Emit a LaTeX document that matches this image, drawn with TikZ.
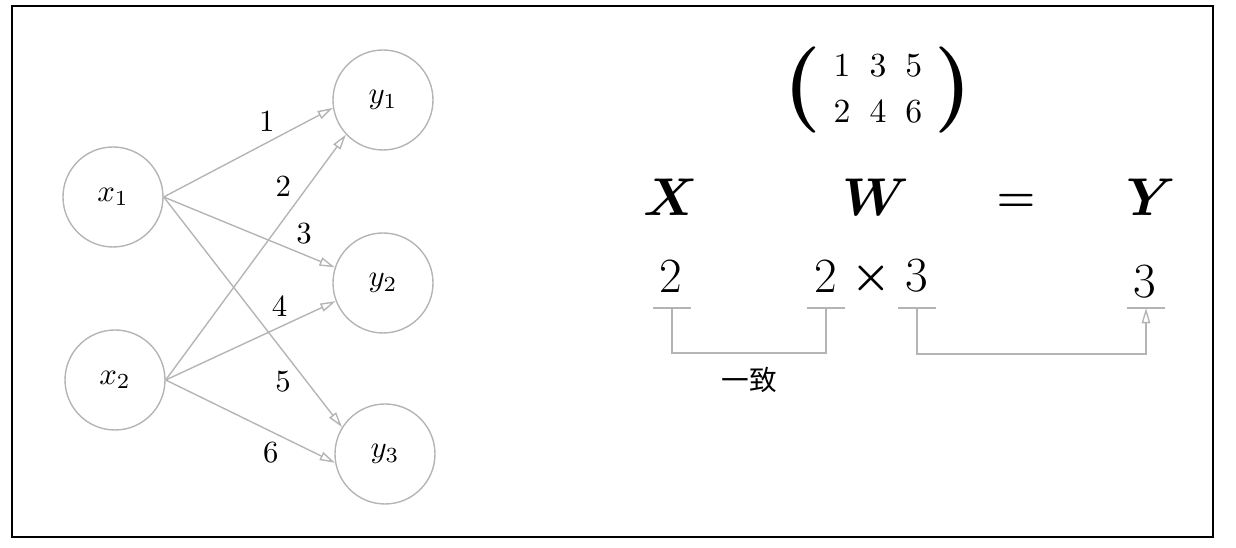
\documentclass[tikz,border=0pt]{standalone}
\usepackage{amsmath}
\usepackage{bm}
\usepackage{fontspec}
\newfontfamily\cjk{Noto Sans CJK SC}
\usetikzlibrary{arrows.meta,calc}
\definecolor{ngray}{HTML}{B4B4B4}

\begin{document}
\begin{tikzpicture}[x=0.325pt, y=-0.325pt,
  unit/.style={circle, draw=ngray, line width=0.45pt, minimum size=32.5pt, inner sep=0pt},
  arr/.style={-{Triangle[open, length=5pt, width=2.8pt]}, ngray, line width=0.45pt},
  lbl/.style={text=black},
  num/.style={font=\fontsize{16}{19}\selectfont},
  tick/.style={ngray, line width=0.45pt},
]
\useasboundingbox (0,0) rectangle (1236,548);
\draw[line width=0.4pt] (12,6) rectangle (1213,537);
% network
\node[unit] (x1) at (113,197) {$x_1$};
\node[unit] (x2) at (115,380) {$x_2$};
\node[unit] (y1) at (383,100) {$y_1$};
\node[unit] (y2) at (383,283) {$y_2$};
\node[unit] (y3) at (385,454) {$y_3$};
\foreach \s/\t/\ang/\p/\where/\dx/\w in {x1/y1/189/0.61/above/0/1, x2/y1/223/0.79/left/-2/2,
    x1/y2/162/0.82/above/0/3, x2/y2/201/0.67/above/0/4, x1/y3/148/0.8/left/-1.5/5, x2/y3/190/0.62/below/0/6}
  \draw[arr] (\s.east) -- node[lbl, \where, xshift=\dx pt, pos=\p] {\w} (\t.\ang);
% shapes
\node[font=\fontsize{10.5}{12.6}\selectfont] (wmat) at (878,90) {$\vcenter{\hbox{\raisebox{1.4pt}{\fontsize{28}{28}\selectfont\bfseries(}}}\hspace{4pt}%
  \renewcommand{\arraystretch}{1.2}\setlength{\arraycolsep}{3.1pt}%
  \begin{array}{@{}ccc@{}}1&3&5\\2&4&6\end{array}%
  \hspace{4pt}\vcenter{\hbox{\raisebox{1.4pt}{\fontsize{28}{28}\selectfont\bfseries)}}}$};
\node[num] (bX) at (671,197) {$\bm{X}$};
\node[num] (bW) at (876,197) {$\bm{W}$};
\node[font=\fontsize{14}{14}\selectfont] (eq) at (1016,203) {$\bm{=}$};
\node[num] (bY) at (1151,197) {$\bm{Y}$};
\node[num] (dX) at (671,276) {2};
\node[num] (dW1) at (826,276) {2};
\node[font=\Large] (times) at (871,278) {$\bm{\times}$};
\node[num] (dW2) at (917,276) {3};
\node[num] (dY) at (1145,282) {3};
\coordinate (tX) at (672,308);
\coordinate (tW1) at (826,308);
\coordinate (tW2) at (917,308);
\coordinate (tY) at (1146,308);
\foreach \c in {tX,tW1,tW2,tY} \draw[tick] ($(\c)+(-19,0)$) -- ($(\c)+(19,0)$);
\draw[tick] (tX) -- ++(0,45) -| node[lbl, pos=0.25, below=1pt, font=\cjk\fontsize{9}{11}\selectfont] {一致} (tW1);
\draw[arr] (tW2) -- ++(0,46) -| (tY);
\end{tikzpicture}
\end{document}
